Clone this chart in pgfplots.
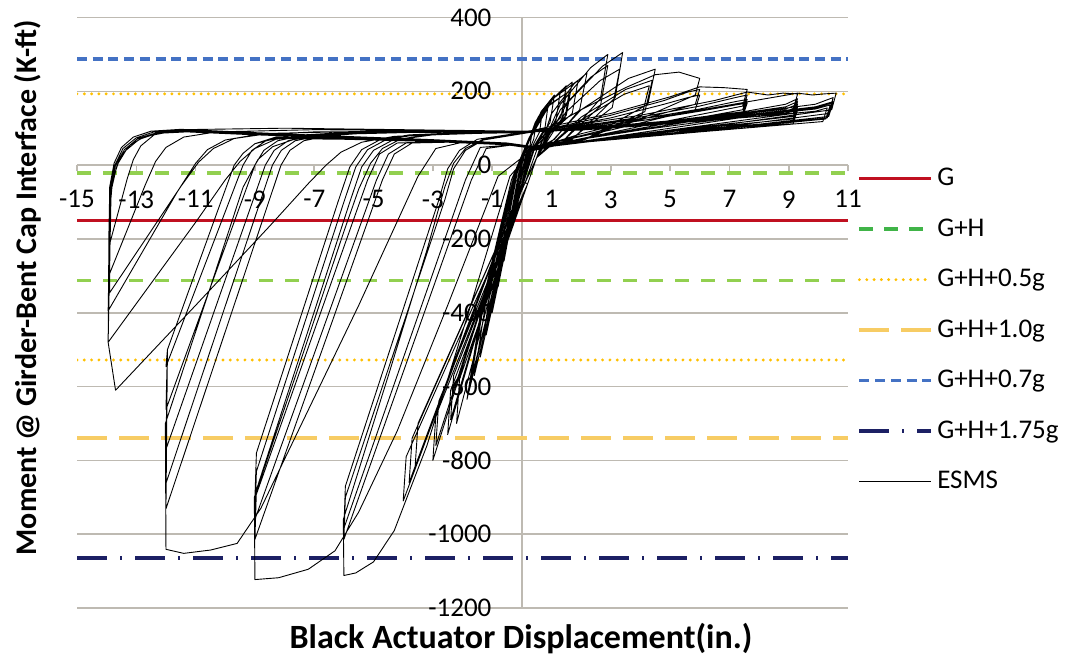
\documentclass[border=0pt]{standalone}
\usepackage{fontspec}
\setmainfont{Carlito}
\usepackage{pgfplots}
\pgfplotsset{compat=1.18}
\definecolor{gridc}{RGB}{190,186,178}
\definecolor{cG}{RGB}{192,16,32}
\definecolor{cGHleg}{RGB}{64,180,72}
\definecolor{cGH}{RGB}{146,208,80}
\definecolor{cHalf}{RGB}{255,192,0}
\definecolor{cOne}{RGB}{247,204,100}
\definecolor{cSeven}{RGB}{68,114,196}
\definecolor{cNavy}{RGB}{28,32,100}
\begin{document}
\begin{tikzpicture}[x=1pt,y=1pt]
\path[use as bounding box] (0,0) rectangle (534,328.5);
\begin{axis}[
  at={(38.5pt,24.5pt)}, anchor=south west,
  width=385.5pt, height=295.25pt, scale only axis,
  xmin=-15, xmax=11, ymin=-1200, ymax=400,
  axis lines=middle,
  axis line style={draw=gridc, line width=0.8pt, -},
  xtick={-15,-13,...,11}, ytick={-1200,-1000,...,400},
  ymajorgrids, grid style={draw=gridc, line width=0.8pt},
  hide obscured x ticks=false, hide obscured y ticks=false,
  xtick style={draw=gridc, line width=0.8pt},
  tick align=outside, major tick length=3pt,
  ytick style={draw=none},
  /pgf/number format/assume math mode=true,
  /pgf/number format/1000 sep={},
  ticklabel style={font=\fontsize{13.5}{16}\selectfont},
  yticklabel style={anchor=east, inner sep=0pt, xshift=-12pt},
  xticklabel style={anchor=north, inner sep=0pt, yshift=-9.5pt},
  xlabel={Black Actuator Displacement(in.)},
  ylabel={Moment @ Girder-Bent Cap Interface (K-ft)},
  every axis x label/.style={at={(axis description cs:0.5759,-0.051)}, anchor=center, inner sep=0pt, font=\bfseries\fontsize{17}{20}\selectfont},
  every axis y label/.style={at={(axis description cs:-0.0636,0.542)}, rotate=90, anchor=center, font=\bfseries\fontsize{15}{18}\selectfont},
  legend style={at={(1.012,0.752)}, anchor=north west, draw=none, fill=none,
    font=\fontsize{13.5}{16}\selectfont, row sep=11pt, inner sep=0pt,
    nodes={inner sep=2pt}, cells={anchor=west}},
  legend image code/.code={\draw[#1] (0pt,0pt) -- (36pt,0pt);},
]
\addlegendimage{cG, line width=1.8pt}
\addlegendentry{G}
\addlegendimage{cGHleg, line width=1.8pt, dash pattern=on 7pt off 5.5pt}
\addlegendentry{G+H}
\addlegendimage{cHalf, line width=1.6pt, line cap=round, dash pattern=on 0pt off 3.65pt}
\addlegendentry{G+H+0.5g}
\addlegendimage{cOne, line width=1.8pt, dash pattern=on 15pt off 6pt}
\addlegendentry{G+H+1.0g}
\addlegendimage{cSeven, line width=1.8pt, dash pattern=on 5pt off 2.85pt}
\addlegendentry{G+H+0.7g}
\addlegendimage{cNavy, line width=1.8pt, dash pattern=on 15pt off 6.5pt on 1pt off 6.5pt}
\addlegendentry{G+H+1.75g}
\addlegendimage{black, line width=0.5pt}
\addlegendentry{ESMS}

\addplot[forget plot, cG, line width=1.8pt] coordinates {(-15,-150) (11,-150)};
\addplot[forget plot, cGH, line width=1.8pt, dash pattern=on 7pt off 6pt] coordinates {(-15,-22) (11,-22)};
\addplot[forget plot, cGH, line width=1.8pt, dash pattern=on 7pt off 6pt] coordinates {(-15,-313) (11,-313)};
\addplot[forget plot, cHalf, line width=1.6pt, line cap=round, dash pattern=on 0pt off 3.65pt] coordinates {(-15,193) (11,193)};
\addplot[forget plot, cHalf, line width=1.6pt, line cap=round, dash pattern=on 0pt off 3.65pt] coordinates {(-15,-528) (11,-528)};
\addplot[forget plot, cOne, line width=1.8pt, dash pattern=on 15pt off 6pt] coordinates {(-15,-740) (11,-740)};
\addplot[forget plot, cSeven, line width=1.8pt, dash pattern=on 5pt off 2.85pt] coordinates {(-15,287) (11,287)};
\addplot[forget plot, cNavy, line width=1.8pt, dash pattern=on 15pt off 6.5pt on 1pt off 6.5pt] coordinates {(-15,-1064) (11,-1064)};

\addplot[forget plot, black, line width=0.45pt, line join=round] coordinates {
(0,0)
(0.1,30) (0.2,50) (0.15,30) (0.05,0) (-0.1,-40) (-0.2,-80) (-0.12,-45) (0,0)
(0.15,50) (0.35,90) (0.28,55) (0.1,15) (-0.05,-40) (-0.2,-85) (-0.4,-170) (-0.25,-100) (-0.02,0)
(0.2,60) (0.5,120) (0.4,70) (0.15,20) (-0.05,-50) (-0.3,-130) (-0.6,-260) (-0.4,-150) (-0.1,-20)
(0.2,60) (0.45,115) (0.7,150) (0.6,90) (0.2,25) (0,-50) (-0.4,-170) (-0.8,-330) (-0.55,-190) (-0.15,-20)
(0.2,60) (0.55,130) (0.9,170) (0.78,100) (0.25,30) (0,-50) (-0.5,-210) (-1,-400) (-0.7,-230) (-0.2,-30)
(0.2,60) (0.65,145) (1.1,190) (0.95,115) (0.3,35) (0.02,-50) (-0.6,-240) (-1.2,-460) (-0.85,-270) (-0.25,-35)
(0.2,60) (0.75,155) (1.3,200) (1.15,120) (0.3,40) (0.02,-50) (-0.7,-270) (-1.4,-520) (-1,-310) (-0.3,-40)
(0.2,65) (0.85,165) (1.5,215) (1.32,130) (0.35,45) (0.03,-50) (-0.8,-300) (-1.6,-570) (-1.15,-340) (-0.3,-40)
(0.25,70) (0.95,175) (1.7,225) (1.5,135) (0.4,45) (0.05,-50) (-0.9,-320) (-1.8,-620) (-1.3,-370) (-0.35,-40)
(0.25,70) (0.9,160) (1.5,195) (1.35,120) (0.4,45) (0.05,-50) (-0.95,-330) (-1.85,-635) (-1.35,-380) (-0.35,-40)
(0.25,75) (1.05,180) (1.9,230) (1.7,140) (0.45,50) (0.05,-50) (-0.9,-320) (-1.75,-600) (-1.25,-360) (-0.3,-40)
(0.3,75) (0.95,165) (1.6,200) (1.45,125) (0.45,50) (0.05,-50) (-0.9,-320) (-1.8,-610) (-1.3,-360) (-0.3,-40)
(0.2,-50)
(0.5,20) (0.99,138) (1.76,220) (2.2,250) (1.95,150) (1.1,70) (0.4,40) (0.05,-40) (-1.1,-360) (-2.2,-700) (-2.1,-580) (0.2,-50)
(0.5,20) (1.3,165) (2.32,264) (2.9,300) (2.65,180) (1.45,70) (0.4,40) (0.05,-40) (-1.25,-380) (-2.5,-730) (-2.4,-610) (0.2,-50)
(0.5,20) (1.53,168) (2.72,268) (3.4,305) (3.15,183) (1.7,70) (0.4,40) (0.05,-40) (-1.5,-420) (-3,-800) (-2.9,-680) (0.2,-50)
(0.5,20) (1.3,150) (2.32,238) (2.9,270) (2.65,160) (1.45,70) (0.4,40) (0.05,-40) (-1.2,-360) (-2.4,-690) (-2.3,-570) (0.2,-50)
(0.5,20) (1.48,143) (2.64,229) (3.3,260) (3.05,156) (1.65,70) (0.4,40) (0.05,-40) (-1.45,-400) (-2.9,-760) (-2.8,-640) (0.2,-50)
(0.5,20) (2,150) (3.6,235) (4.5,260) (4.25,165) (2.25,75) (0.4,40) (0.05,-40) (-2,-480) (-4,-910) (-3.9,-790) (0.2,-50)
(0.5,20) (2,130) (3.5,205) (4.4,230) (4.15,145) (2.2,72) (0.4,40) (0.05,-40) (-1.9,-450) (-3.8,-860) (-3.7,-740) (0.1,-50)
(0.5,20) (1.95,120) (3.45,192) (4.3,215) (4.05,135) (2.15,70) (0.4,40) (0.05,-40) (-1.8,-430) (-3.6,-820) (-3.5,-700) (0.1,-50)
(0.5,40) (1,105) (2,150) (3.5,210) (4.5,245) (5.3,252) (6,235) (5.85,190) (4,125) (2,85) (0.4,45) (-0.4,-30) (-1.8,-400) (-3.2,-760) (-4.3,-990) (-5,-1075) (-5.6,-1105) (-6,-1112) (-6.02,-960) (-4.5,-570) (-3.2,-230) (-2.6,-60) (-2.3,5) (-1.9,45) (-1.3,70) (0,85)
(1,100) (3,135) (4.8,175) (5.6,198) (6,205) (5.85,165) (3,100) (0.4,48) (-0.3,55) (-1.2,45) (-1.7,-40) (-6,-1014) (-5.95,-900) (-2.6,-95) (-2.3,-10) (-1.9,40) (-1.3,68) (0,85)
(1,98) (3,128) (4.8,165) (5.6,183) (6,190) (5.85,150) (3,95) (0.4,50) (-0.3,55) (-1.4,48) (-1.9,-40) (-6,-984) (-5.95,-870) (-2.8,-95) (-2.5,-10) (-2.1,40) (-1.5,70) (0,88)
(1,105) (3,140) (5,185) (6,212) (6.8,210) (7.6,205) (7.45,160) (4,105) (0.4,45) (-0.8,-30) (-2.5,-380) (-4.2,-720) (-5.5,-940) (-6.3,-1045) (-7.2,-1095) (-8.2,-1118) (-9,-1123) (-9.02,-900) (-7.5,-540) (-6,-180) (-5.5,-65) (-5.1,5) (-4.7,45) (-4.1,70) (-3,82) (-1.5,86) (0,88)
(1.5,100) (4,130) (6,160) (7.2,183) (7.6,190) (7.45,150) (4,100) (0.4,48) (-0.5,55) (-2.5,62) (-3.7,60) (-4.3,30) (-4.7,-40) (-9,-1014) (-8.95,-880) (-5.8,-100) (-5.4,-5) (-5.0,40) (-4.4,66) (-3.4,80) (-2,86) (0,90)
(1.5,98) (4,125) (6,152) (7.2,172) (7.6,178) (7.45,140) (4,97) (0.4,50) (-0.5,56) (-2.5,63) (-3.9,60) (-4.5,30) (-4.9,-40) (-9,-960) (-8.95,-830) (-6,-100) (-5.6,-5) (-5.2,42) (-4.6,68) (-3.6,82) (-2,88) (0,90)
(1.5,96) (4,120) (6,146) (7.2,163) (7.6,168) (7.45,132) (4,95) (0.4,50) (-0.5,57) (-2.5,64) (-4.2,60) (-4.8,30) (-5.2,-40) (-9,-903) (-8.95,-780) (-6.2,-100) (-5.8,-5) (-5.4,42) (-4.8,68) (-3.8,82) (-2,88) (0,90)
(1.5,105) (4,135) (6.5,175) (7.6,198) (8.3,190) (8.8,195) (9.3,193) (9.15,150) (5,100) (0.4,45) (-0.5,55) (-2,62) (-2.9,45) (-3.5,-30) (-5.5,-380) (-7.3,-680) (-8.8,-930) (-9.6,-1025) (-10.5,-1043) (-11.4,-1052) (-12,-1041) (-12.02,-700) (-10.5,-330) (-9.4,-60) (-8.9,15) (-8.4,50) (-7.6,72) (-6,84) (-3,90) (0,88)
(2,98) (5,120) (7.5,145) (8.9,165) (9.3,180) (9.15,140) (5,95) (0.4,48) (-0.5,58) (-3,64) (-6,70) (-8.3,72) (-9.0,58) (-9.4,32) (-9.7,0) (-11.95,-500) (-12,-931) (-8.62,-120) (-8.12,0) (-7.82,40) (-7.35,66) (-6.5,80) (-5,88) (0,90)
(2,98) (5,118) (7.5,142) (8.9,158) (9.3,172) (9.15,132) (5,94) (0.4,48) (-0.5,58) (-3,65) (-6,71) (-8.3,73) (-9.0,58) (-9.4,32) (-9.7,0) (-11.95,-500) (-12,-862) (-8.91,-120) (-8.41,0) (-8.11,40) (-7.64,66) (-6.8,80) (-5.2,88) (0,90)
(2,97) (5,116) (7.5,139) (8.9,152) (9.3,165) (9.15,125) (5,93) (0.4,48) (-0.5,58) (-3,66) (-6,72) (-8.3,74) (-9.0,58) (-9.4,32) (-9.7,0) (-11.95,-500) (-12,-770) (-9.15,-115) (-8.65,0) (-8.35,40) (-7.88,66) (-7,80) (-5.4,88) (0,90)
(2,96) (5,114) (7.5,136) (8.9,146) (9.3,158) (9.15,118) (5,92) (0.4,48) (-0.5,58) (-3,66) (-6,73) (-8.3,75) (-9.0,58) (-9.4,32) (-9.7,0) (-11.95,-500) (-12,-662) (-9.5,-110) (-9,0) (-8.7,40) (-8.23,66) (-7.4,80) (-5.7,88) (0,90)
(2,95) (5,112) (7.5,133) (8.9,140) (9.3,150) (9.15,112) (5,91) (0.4,48) (-0.5,58) (-3,67) (-6,74) (-8.3,76) (-9.0,58) (-9.4,32) (-9.7,0) (-11.95,-500) (-12,-546) (-9.9,-105) (-9.4,0) (-9.1,40) (-8.63,66) (-7.8,80) (-6,88) (0,90)
(2,108) (5,135) (7.5,170) (9.3,195) (9.8,190) (10.2,193) (10.6,195) (10.45,150) (6,100) (0.4,45) (-0.5,55) (-3,65) (-6,75) (-9,85) (-11,92) (-12,90) (-12.7,78) (-13.2,55) (-13.55,20) (-13.8,-40) (-13.92,-150) (-13.95,-480) (-13.7,-610) (-11,-380) (-8.5,-165) (-7.2,-50) (-6.6,0) (-6.1,35) (-5.4,62) (-4.3,78) (-2,86) (0,88)
(2,100) (5,120) (8,145) (9.9,165) (10.5,183) (10.35,140) (6,95) (0.4,48) (-0.5,58) (-3,66) (-6,74) (-9,82) (-11.3,90) (-12.3,86) (-12.9,70) (-13.35,40) (-13.65,0) (-13.85,-70) (-13.95,-480) (-11,-155) (-10,-40) (-9.5,10) (-9,45) (-8.3,70) (-7,82) (-4,90) (0,92)
(2,97) (5,117) (8,138) (9.9,155) (10.45,168) (10.3,128) (6,92) (0.4,50) (-0.5,60) (-3,68) (-6,76) (-9,84) (-11.4,94) (-12.4,90) (-13,74) (-13.45,45) (-13.72,0) (-13.88,-60) (-13.9,-346) (-11.5,-58) (-10.9,8) (-10.4,45) (-9.7,72) (-8.5,86) (-5,92) (0,90)
(2,98) (5,118) (8,140) (9.9,158) (10.5,172) (10.35,132) (6,93) (0.4,50) (-0.5,60) (-3,67) (-6,76) (-9,85) (-11.4,92) (-12.3,88) (-12.95,72) (-13.4,42) (-13.7,0) (-13.88,-70) (-13.95,-395) (-11.6,-70) (-11,5) (-10.6,42) (-10,68) (-9,82) (-7,90) (0,92)
(2,96) (5,115) (8,136) (9.9,152) (10.4,163) (10.25,125) (6,92) (0.4,50) (-0.5,60) (-3,68) (-6,77) (-9,86) (-11.5,95) (-12.4,90) (-13,74) (-13.45,45) (-13.72,0) (-13.88,-60) (-13.93,-300) (-12.7,-54) (-12.35,10) (-12,48) (-11.4,76) (-10.3,90) (-7,96) (0,92)
(2,95) (5,113) (8,132) (9.9,146) (10.3,155) (10.15,118) (6,90) (0.4,50) (-0.5,60) (-3,69) (-6,78) (-9,88) (-11.5,97) (-12.5,92) (-13.1,76) (-13.5,48) (-13.75,5) (-13.9,-60) (-13.92,-220) (-13.3,-35) (-13.1,15) (-12.85,52) (-12.4,82) (-11.5,96) (-8,100) (-3,95) (0,92)
};
\end{axis}
\end{tikzpicture}
\end{document}
